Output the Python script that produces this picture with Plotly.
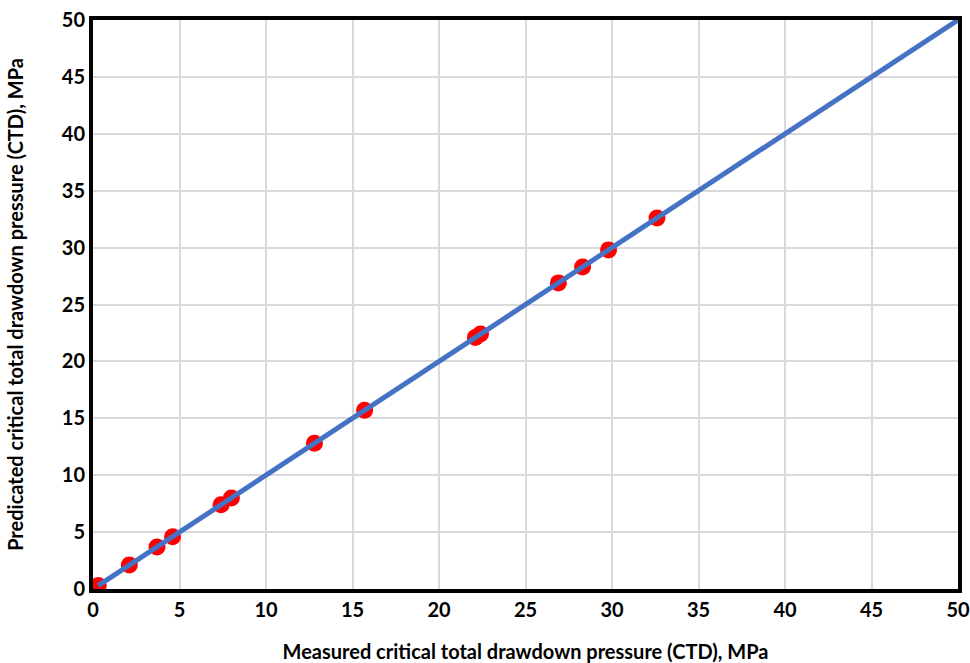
import plotly.graph_objects as go

# Measured vs predicted critical total drawdown pressure (MPa)
measured = [0.3, 2.1, 3.7, 4.6, 7.4, 8.0, 12.8, 15.7, 22.1, 22.4, 26.9, 28.3, 29.8, 32.6]
predicted = [0.3, 2.1, 3.7, 4.6, 7.4, 8.0, 12.8, 15.7, 22.1, 22.4, 26.9, 28.3, 29.8, 32.6]

# 1:1 reference line
line_x = [0.3, 50]
line_y = [0.3, 50]

tick_vals = [0, 5, 10, 15, 20, 25, 30, 35, 40, 45, 50]

font_family = "Lato, 'Open Sans', sans-serif"

fig = go.Figure()
fig.add_trace(go.Scatter(
    x=measured, y=predicted, mode="markers",
    marker=dict(color="#ff0000", size=17, line=dict(width=0)),
    showlegend=False,
))
fig.add_trace(go.Scatter(
    x=line_x, y=line_y, mode="lines",
    line=dict(color="#4472c4", width=5),
    showlegend=False,
))

axis_common = dict(
    range=[0, 50], tickvals=tick_vals, showgrid=True,
    gridcolor="#d9d9d9", gridwidth=1.5, zeroline=False,
    showline=True, linecolor="black", linewidth=4, mirror=True,
    automargin=False,
    ticks="", tickfont=dict(family=font_family, size=20, color="black", weight="bold"),
)

fig.update_layout(
    width=970, height=663,
    margin=dict(l=93, r=12, t=20, b=74),
    paper_bgcolor="white", plot_bgcolor="white",
    xaxis=dict(
        **axis_common,
        title=dict(text="<b>Measured critical total drawdown pressure (CTD), MPa</b>",
                   font=dict(family=font_family, size=20, color="black"), standoff=26),
    ),
    yaxis=dict(
        **axis_common,
        title=dict(text="<b>Predicated critical total drawdown pressure (CTD), MPa</b>",
                   font=dict(family=font_family, size=20, color="black"), standoff=34),
    ),
)

fig.write_html("out.html")
